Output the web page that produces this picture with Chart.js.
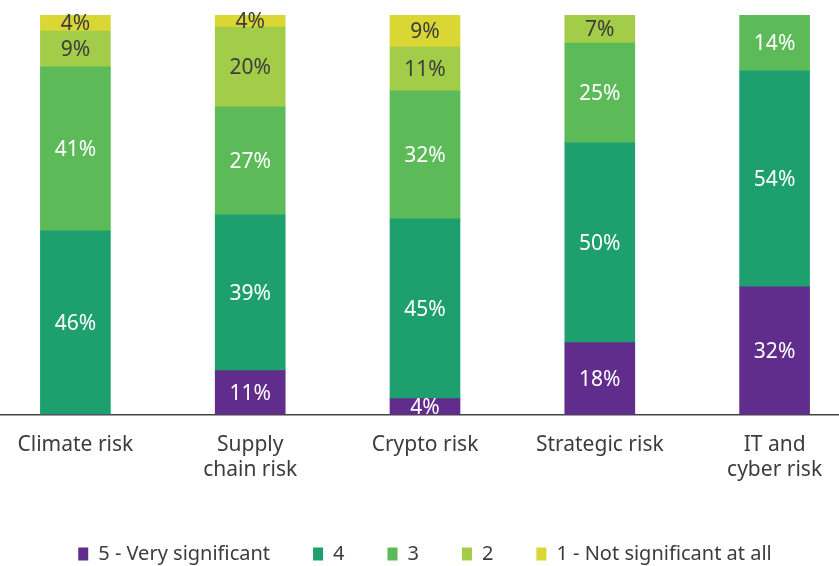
<!DOCTYPE html>
<html>
<head>
<meta charset="utf-8">
<script src="https://cdn.jsdelivr.net/npm/chart.js@4/dist/chart.umd.min.js"></script>
<style>
  html, body { margin: 0; padding: 0; background: #fff; overflow: hidden; }
  #wrap { width: 874px; height: 578px; margin-left: -12px; }
</style>
</head>
<body>
<div id="wrap"><canvas id="risks"></canvas></div>
<script>
const categories = ['Climate risk', ['Supply', 'chain risk'], 'Crypto risk', 'Strategic risk', ['IT and', 'cyber risk']];
const levels = ['5 - Very significant', '4', '3', '2', '1 - Not significant at all'];
const very = [0, 11, 4, 18, 32];
const four = [46, 39, 45, 50, 54];
const three = [41, 27, 32, 25, 14];
const two = [9, 20, 11, 7, 0];
const notAtAll = [4, 4, 9, 0, 0];

const colours = ['#612d8c', '#1ea06e', '#5cba59', '#a3cc48', '#dad634'];
const labelInk = ['#ffffff', '#ffffff', '#ffffff', '#3c3c3c', '#3c3c3c'];

// values written in the middle of each segment
const segLabels = {
  id: 'segLabels',
  afterDatasetsDraw(chart) {
    const ctx = chart.ctx;
    const top = chart.chartArea.top;
    ctx.save();
    ctx.font = '21px "Noto Sans"';
    ctx.textAlign = 'center';
    ctx.textBaseline = 'middle';
    chart.data.datasets.forEach((ds, i) => {
      chart.getDatasetMeta(i).data.forEach((bar, j) => {
        const v = ds.data[j];
        if (!v) return;
        const p = bar.getProps(['x', 'y', 'base'], true);
        const y0 = Math.max(p.y, top);
        ctx.fillStyle = labelInk[i];
        ctx.fillText(v + '%', p.x, (y0 + p.base) / 2 + 1);
      });
    });
    ctx.restore();
  }
};

const ctx = document.getElementById('risks').getContext('2d');
const chart = new Chart(ctx, {
  type: 'bar',
  data: {
    labels: categories,
    datasets: [very, four, three, two, notAtAll].map((d, i) => ({
      label: levels[i],
      data: d,
      backgroundColor: colours[i],
      barThickness: 70
    }))
  },
  options: {
    responsive: true,
    maintainAspectRatio: false,
    animation: false,
    layout: { padding: { left: 0, right: 0, top: 15, bottom: 4 } },
    plugins: {
      tooltip: { enabled: false },
      legend: {
        position: 'bottom',
        labels: {
          boxWidth: 10,
          boxHeight: 13,
          padding: 43,
          color: '#3c3c3c',
          font: { family: 'Noto Sans', size: 20 }
        }
      }
    },
    scales: {
      x: {
        stacked: true,
        grid: { display: false, drawTicks: false },
        border: { color: '#444', width: 1.5 },
        ticks: {
          color: '#3c3c3c',
          padding: 18,
          font: { family: 'Noto Sans', size: 21, lineHeight: 1.2 },
          maxRotation: 0,
          autoSkip: false
        }
      },
      y: {
        stacked: true,
        display: false,
        min: 0,
        max: 100
      }
    }
  },
  plugins: [segLabels]
});
</script>
</body>
</html>
